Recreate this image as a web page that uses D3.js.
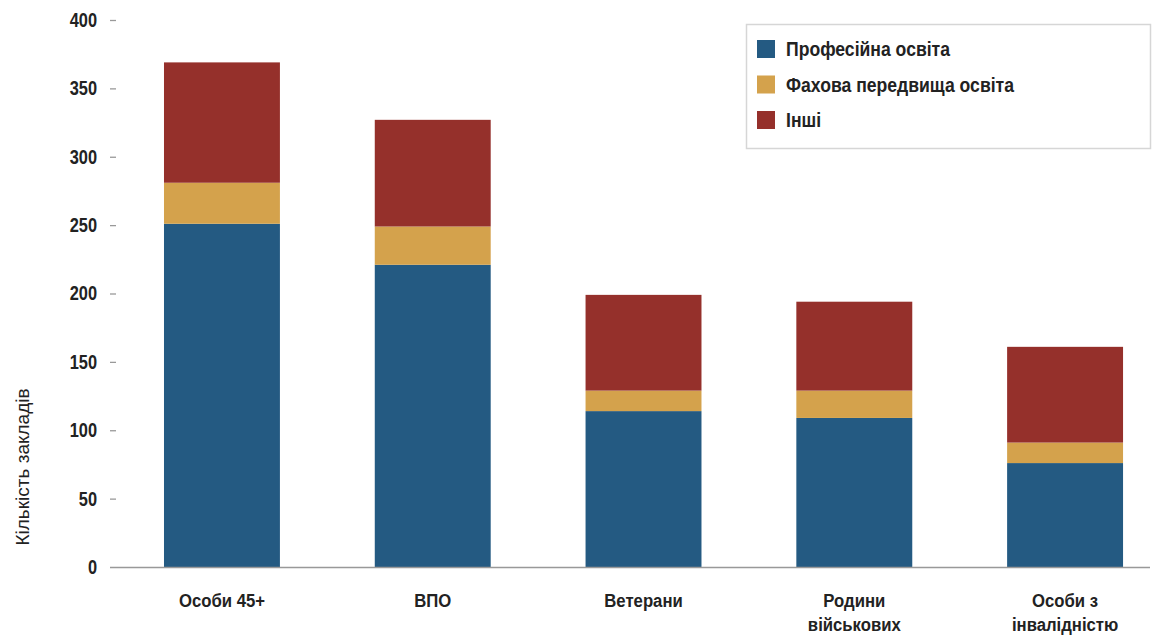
<!DOCTYPE html>
<html><head><meta charset="utf-8">
<script src="https://cdn.jsdelivr.net/npm/d3@7"></script>
<style>body{margin:0;background:#fff}svg{display:block}</style>
</head><body><svg id="c" width="1156" height="635"></svg>
<script>
const categories = [["Особи 45+"], ["ВПО"], ["Ветерани"], ["Родини", "військових"], ["Особи з", "інвалідністю"]];
const seriesNames = ["Професійна освіта", "Фахова передвища освіта", "Інші"];
const professional = [251, 221, 114, 109, 76];
const preHigher = [30, 28, 15, 20, 15];
const others = [88, 78, 70, 65, 70];
const yTicks = [0, 50, 100, 150, 200, 250, 300, 350, 400];
const colors = ["#245a82", "#d4a24c", "#95302b"];
const yTitle = "Кількість закладів";

const svg = d3.select("#c");
const font = "'Liberation Sans', Arial, sans-serif";
const keys = categories.map(c => c.join(" "));
const rows = keys.map((k, i) => ({key: k, s0: professional[i], s1: preHigher[i], s2: others[i]}));
const stack = d3.stack().keys(["s0", "s1", "s2"])(rows);

const x = d3.scaleBand().domain(keys).range([110, 1150]).paddingInner(0.45).paddingOuter(0.192).align(0.667);
const y = d3.scaleLinear().domain([0, 400]).range([567, 20]);

// bars
svg.append("g").selectAll("g").data(stack).join("g")
  .attr("fill", (d, i) => colors[i])
  .selectAll("rect").data(d => d).join("rect")
  .attr("x", d => x(d.data.key))
  .attr("width", x.bandwidth())
  .attr("y", d => y(d[1]))
  .attr("height", d => y(d[0]) - y(d[1]));

// y axis
const yAxis = svg.append("g").attr("transform", "translate(116,0)")
  .call(d3.axisLeft(y).tickValues(yTicks).tickSize(6).tickPadding(13));
yAxis.select(".domain").remove();
yAxis.selectAll(".tick line").attr("stroke", "#999").attr("stroke-width", 1.3);
yAxis.selectAll(".tick text").attr("fill", "#222").attr("font-family", font)
  .attr("font-weight", "bold").attr("font-size", 20)
  .attr("x", 0).attr("transform", "translate(-19,0) scale(0.82,1)");
yAxis.selectAll(".tick").filter(d => d === 0).select("line").remove();

// x axis
const xAxis = svg.append("g").attr("transform", "translate(0,567)")
  .call(d3.axisBottom(x).tickSize(0).tickPadding(0).tickFormat(""));
xAxis.select(".domain").attr("stroke", "#999").attr("stroke-width", 1.5)
  .attr("d", "M110,0.5H1150");
xAxis.selectAll(".tick").each(function(d, i) {
  const t = d3.select(this).select("text").text(null)
    .attr("fill", "#222").attr("font-family", font).attr("font-weight", "bold")
    .attr("font-size", 19).attr("y", 0).attr("dy", null)
    .attr("transform", "scale(0.88,1)");
  categories[i].forEach((line, j) => {
    t.append("tspan").attr("x", 0).attr("y", 40 + j * 24).text(line);
  });
});

// y title
svg.append("text").attr("transform", "translate(29,467) rotate(-90)")
  .attr("text-anchor", "middle").attr("font-family", font).attr("font-size", 19)
  .attr("fill", "#222").text(yTitle);

// legend
const lg = svg.append("g");
lg.append("rect").attr("x", 746.5).attr("y", 24.5).attr("width", 404).attr("height", 124)
  .attr("fill", "#fff").attr("stroke", "#d6d6d6").attr("stroke-width", 1.5);
seriesNames.forEach((n, i) => {
  const yy = 49 + i * 35.5;
  lg.append("rect").attr("x", 757).attr("y", yy - 9).attr("width", 18).attr("height", 18).attr("fill", colors[i]);
  lg.append("text").attr("transform", `translate(786,${yy}) scale(0.88,1)`).attr("dy", "0.35em")
    .attr("font-family", font).attr("font-weight", "bold").attr("font-size", 20)
    .attr("fill", "#222").text(n);
});
</script></body></html>
